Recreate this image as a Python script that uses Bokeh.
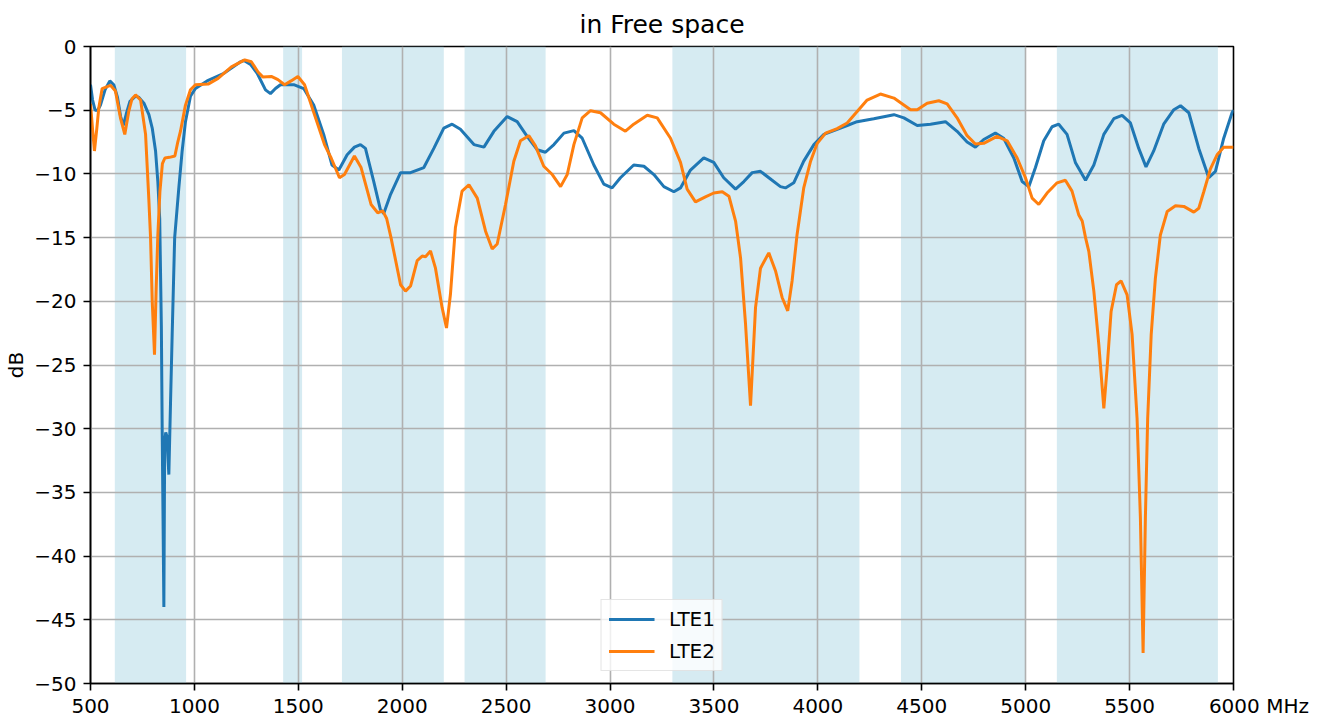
from bokeh.plotting import figure
from bokeh.models import Range1d, FixedTicker
from bokeh.embed import file_html
from bokeh.resources import INLINE

# ---------------- data ----------------
x_ticks = [500, 1000, 1500, 2000, 2500, 3000, 3500, 4000, 4500, 5000, 5500, 6000]
y_ticks = [-50, -45, -40, -35, -30, -25, -20, -15, -10, -5, 0]

band_lo = [617, 1427, 1710, 2300, 3300, 4400, 5150]
band_hi = [960, 1518, 2200, 2690, 4200, 5000, 5925]

lte1_f = [500, 510, 522, 535, 548, 570, 593, 612, 630, 645, 658, 672, 690, 717, 733, 757, 781, 797,
          813, 824, 833, 841, 845, 849, 853, 857, 862, 868, 872, 877, 885, 893, 905, 925, 941, 957,
          981, 1005, 1061, 1142, 1222, 1238, 1270, 1302, 1342, 1366, 1390, 1414, 1478, 1526, 1574,
          1622, 1662, 1695, 1735, 1770, 1799, 1823, 1863, 1895, 1911, 1944, 1992, 2040, 2104, 2152,
          2200, 2240, 2280, 2345, 2393, 2441, 2505, 2553, 2601, 2649, 2689, 2730, 2778, 2826, 2866,
          2922, 2970, 3010, 3050, 3114, 3163, 3211, 3259, 3307, 3339, 3387, 3451, 3499, 3547, 3604,
          3644, 3684, 3724, 3772, 3820, 3844, 3884, 3932, 3981, 4029, 4093, 4141, 4189, 4269, 4366,
          4414, 4478, 4542, 4614, 4670, 4718, 4758, 4798, 4854, 4894, 4943, 4983, 5015, 5047, 5087,
          5127, 5159, 5199, 5239, 5288, 5328, 5376, 5424, 5464, 5504, 5544, 5579, 5616, 5664, 5713,
          5745, 5785, 5833, 5881, 5913, 5953, 5993, 6000]
lte1_db = [-3.0, -4.2, -5.0, -5.0, -4.6, -3.4, -2.7, -3.0, -4.0, -5.5, -6.2, -5.3, -4.3, -3.9, -4.0,
           -4.45, -5.35, -6.4, -8.2, -10.6, -13.5, -22.0, -30.2, -37.0, -44.0, -31.0, -30.3, -30.6,
           -32.0, -33.6, -28.0, -22.6, -15.0, -11.1, -8.2, -5.9, -3.9, -3.3, -2.7, -2.1, -1.2, -1.1,
           -1.4, -2.1, -3.4, -3.7, -3.3, -3.0, -3.0, -3.3, -4.6, -6.9, -9.3, -9.7, -8.5, -7.9, -7.7,
           -8.0, -10.6, -12.8, -13.1, -11.6, -9.9, -9.9, -9.5, -8.0, -6.4, -6.1, -6.5, -7.7, -7.9,
           -6.66, -5.5, -5.9, -7.05, -8.1, -8.3, -7.7, -6.8, -6.6, -7.2, -9.3, -10.8, -11.1, -10.3,
           -9.3, -9.4, -10.05, -11.0, -11.4, -11.1, -9.7, -8.75, -9.1, -10.3, -11.2, -10.6, -9.9,
           -9.8, -10.4, -11.0, -11.1, -10.7, -9.0, -7.7, -6.9, -6.5, -6.2, -5.9, -5.67, -5.35, -5.6,
           -6.2, -6.1, -5.9, -6.66, -7.5, -7.9, -7.3, -6.8, -7.2, -8.75, -10.6, -11.0, -9.5, -7.4,
           -6.3, -6.1, -6.9, -9.1, -10.5, -9.3, -6.9, -5.67, -5.4, -6.0, -8.0, -9.45, -8.2, -6.1,
           -4.96, -4.65, -5.2, -8.0, -10.3, -9.8, -7.2, -5.2, -5.0]

lte2_f = [500, 510, 519, 530, 540, 556, 596, 620, 644, 665, 684, 700, 717, 741, 765, 781, 789, 797,
          808, 816, 824, 834, 846, 858, 880, 906, 920, 933, 957, 981, 1005, 1066, 1114, 1178, 1242,
          1274, 1306, 1330, 1370, 1402, 1434, 1465, 1498, 1530, 1578, 1626, 1658, 1698, 1722, 1770,
          1802, 1850, 1882, 1906, 1925, 1946, 1992, 2016, 2040, 2072, 2096, 2112, 2136, 2160, 2192,
          2213, 2232, 2256, 2288, 2321, 2361, 2401, 2433, 2457, 2497, 2537, 2569, 2609, 2641, 2681,
          2722, 2762, 2794, 2826, 2866, 2906, 2954, 3018, 3074, 3114, 3179, 3227, 3291, 3339, 3371,
          3411, 3459, 3499, 3540, 3572, 3604, 3628, 3652, 3676, 3700, 3724, 3764, 3796, 3828, 3855,
          3876, 3900, 3932, 3965, 3997, 4037, 4093, 4141, 4189, 4237, 4301, 4366, 4446, 4478, 4526,
          4582, 4622, 4670, 4718, 4758, 4798, 4862, 4911, 4959, 4999, 5031, 5063, 5103, 5151, 5191,
          5223, 5255, 5272, 5288, 5304, 5328, 5352, 5376, 5392, 5411, 5437, 5459, 5488, 5512, 5536,
          5552, 5565, 5576, 5587, 5604, 5624, 5648, 5681, 5721, 5761, 5809, 5833, 5857, 5889, 5921,
          5953, 5993, 6000]
lte2_db = [-4.5, -6.5, -8.2, -6.5, -4.8, -3.3, -3.05, -3.5, -5.6, -6.9, -5.1, -4.1, -3.8, -4.2, -6.9,
           -12.1, -15.0, -20.0, -24.2, -19.0, -14.8, -11.4, -9.2, -8.75, -8.7, -8.6, -7.5, -6.65,
           -4.6, -3.4, -3.0, -2.95, -2.5, -1.6, -1.05, -1.2, -2.0, -2.4, -2.35, -2.6, -3.0, -2.7,
           -2.35, -3.0, -5.35, -7.7, -8.75, -10.3, -10.05, -8.6, -9.5, -12.4, -13.05, -12.9, -13.5,
           -15.0, -18.7, -19.2, -18.8, -16.8, -16.45, -16.5, -16.05, -17.4, -20.5, -22.1, -19.45,
           -14.2, -11.35, -10.85, -11.9, -14.5, -15.9, -15.5, -12.4, -9.0, -7.4, -7.0, -7.8, -9.4,
           -10.05, -11.0, -10.05, -7.7, -5.6, -5.04, -5.2, -6.1, -6.65, -6.1, -5.4, -5.6, -7.2, -9.1,
           -11.2, -12.2, -11.8, -11.5, -11.4, -11.75, -13.7, -16.6, -21.8, -28.2, -20.5, -17.4,
           -16.2, -17.6, -19.7, -20.75, -18.4, -14.75, -11.1, -9.0, -7.6, -6.8, -6.45, -6.0, -5.1,
           -4.2, -3.73, -4.05, -4.96, -4.96, -4.45, -4.26, -4.5, -5.6, -7.0, -7.65, -7.6, -7.05, -7.4,
           -8.75, -10.3, -11.9, -12.4, -11.5, -10.7, -10.5, -11.35, -13.2, -13.7, -15.0, -16.1,
           -19.2, -23.4, -28.4, -25.2, -20.8, -18.7, -18.4, -19.5, -22.6, -29.2, -37.0, -47.6, -37.0,
           -29.2, -22.6, -18.2, -14.8, -12.95, -12.5, -12.55, -13.0, -12.7, -11.4, -9.6, -8.5, -7.9,
           -7.9, -7.9]

title_text = "in Free space"
y_label = "dB"
x_unit = "MHz"
series_names = ["LTE1", "LTE2"]

# ---------------- styling ----------------
FONT = "DejaVu Sans"
BLUE = "#1f77b4"
ORANGE = "#ff7f0e"

p = figure(width=1328, height=720, output_backend="svg", toolbar_location=None,
           x_range=Range1d(500, 6000), y_range=Range1d(-50, 0),
           min_border_left=90, min_border_right=95, min_border_top=45, min_border_bottom=37,
           title=title_text)

p.title.text_font = FONT
p.title.text_font_size = "25px"
p.title.text_font_style = "normal"
p.title.text_color = "black"
p.title.align = "center"
p.title.standoff = 15

p.outline_line_color = "black"
p.outline_line_width = 1.6
p.outline_line_alpha = 1.0

# bands (below the grid)
p.quad(left=band_lo, right=band_hi, bottom=min(y_ticks), top=max(y_ticks),
       fill_color="#add8e6", fill_alpha=0.5, line_color=None, level="image")

p.line(lte1_f, lte1_db, line_color=BLUE, line_width=3, legend_label=series_names[0])
p.line(lte2_f, lte2_db, line_color=ORANGE, line_width=3, legend_label=series_names[1])

p.xaxis.ticker = FixedTicker(ticks=x_ticks)
p.yaxis.ticker = FixedTicker(ticks=y_ticks)

# last x tick label carries the unit; padded on the left with no-break spaces so
# that the number itself stays centred under its tick
last = max(x_ticks)
p.xaxis.major_label_overrides = {last: "\u00a0" * 8 + f"{last} {x_unit}"}

for ax in (p.xaxis[0], p.yaxis[0]):
    ax.axis_line_color = "black"
    ax.axis_line_width = 1.6
    ax.major_tick_line_color = "black"
    ax.major_tick_line_width = 1.6
    ax.major_tick_out = 7
    ax.major_tick_in = 0
    ax.minor_tick_line_color = None
    ax.major_label_text_font = FONT
    ax.major_label_text_font_size = "20px"
    ax.major_label_text_color = "black"
    ax.major_label_standoff = 7
p.xaxis.major_label_standoff = 3

p.yaxis.axis_label = y_label
p.yaxis.axis_label_text_font = FONT
p.yaxis.axis_label_text_font_size = "20px"
p.yaxis.axis_label_text_font_style = "normal"
p.yaxis.axis_label_text_color = "black"
p.yaxis.axis_label_standoff = 3

p.grid.grid_line_color = "#b0b0b0"
p.grid.grid_line_width = 1.6
p.grid.grid_line_alpha = 1.0

lg = p.legend[0]
lg.location = "bottom_center"
lg.margin = 12
lg.padding = 7
lg.spacing = 8
lg.glyph_width = 46
lg.glyph_height = 24
lg.label_height = 24
lg.label_standoff = 15
lg.label_text_font = FONT
lg.label_text_font_size = "20px"
lg.label_text_color = "black"
lg.border_line_color = "#cccccc"
lg.border_line_width = 1.5
lg.background_fill_color = "white"
lg.background_fill_alpha = 0.8

open("out.html", "w").write(file_html(p, INLINE))
